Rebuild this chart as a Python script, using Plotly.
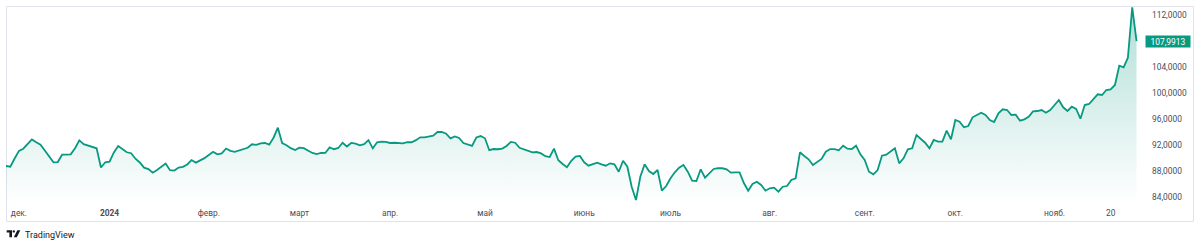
import pandas as pd
import plotly.graph_objects as go

# ---- data (USD/RUB daily closes) ----
start_date = "2023-11-28"
end_date = "2024-11-28"

rates = [
    88.77, 88.66, 89.92, 91.09, 91.43, 92.17, 92.86, 92.42, 92.05, 91.14,
    90.20, 89.34, 89.38, 90.51, 90.52, 90.57, 91.51, 92.72, 92.14, 91.94,
    91.71, 91.49, 88.54, 89.34, 89.43, 90.85, 91.85, 91.31, 90.88, 90.74,
    89.89, 89.31, 88.51, 88.29, 87.74, 88.14, 88.63, 89.15, 88.12, 88.06,
    88.52, 88.65, 89.00, 89.68, 89.29, 89.58, 89.98, 90.46, 90.94, 90.57,
    90.72, 91.46, 91.11, 90.95, 91.17, 91.40, 91.57, 92.11, 92.02, 92.25,
    92.31, 92.06, 93.12, 94.66, 92.29, 91.97, 91.51, 91.23, 91.60, 91.51,
    91.08, 90.78, 90.60, 90.77, 90.78, 91.63, 91.35, 91.54, 92.34, 91.77,
    92.31, 92.22, 91.95, 92.14, 92.74, 91.49, 92.42, 92.51, 92.48, 92.31,
    92.35, 92.25, 92.26, 92.45, 92.42, 92.75, 93.18, 93.18, 93.26, 93.43,
    94.00, 94.03, 93.75, 93.03, 93.32, 93.08, 92.31, 92.14, 91.86, 93.15,
    93.38, 93.03, 91.20, 91.38, 91.35, 91.45, 91.85, 92.48, 92.35, 91.58,
    91.34, 91.18, 90.88, 90.92, 90.71, 90.28, 90.15, 91.45, 89.66, 89.08,
    88.57, 89.58, 90.20, 90.31, 89.34, 88.82, 89.03, 89.28, 89.03, 88.82,
    89.18, 89.03, 87.89, 89.58, 88.66, 85.58, 83.54, 87.12, 89.03, 88.00,
    87.54, 88.15, 84.97, 85.69, 86.88, 87.80, 88.51, 88.92, 87.89, 86.51,
    86.46, 88.26, 86.97, 87.65, 88.31, 88.42, 88.42, 88.26, 87.74, 87.80,
    87.80, 86.15, 84.97, 86.00, 86.35, 85.85, 84.97, 85.34, 85.43, 84.82,
    85.58, 85.69, 86.62, 86.88, 90.88, 90.31, 89.80, 88.92, 89.43, 89.85,
    90.97, 91.38, 91.38, 91.18, 91.89, 91.43, 91.38, 91.89, 90.57, 89.69,
    87.89, 87.49, 88.15, 90.35, 90.51, 91.03, 91.49, 89.18, 89.95, 91.34,
    91.49, 93.54, 92.88, 92.35, 91.49, 92.77, 92.51, 92.51, 94.20, 92.88,
    95.85, 95.58, 94.72, 94.92, 96.26, 96.62, 96.97, 96.62, 95.85, 95.54,
    96.88, 97.49, 97.38, 96.62, 96.66, 95.74, 95.95, 96.35, 97.18, 97.23,
    97.38, 96.97, 97.38, 98.15, 98.92, 97.80, 97.23, 97.89, 97.54, 96.05,
    98.15, 98.31, 99.03, 99.80, 99.69, 100.46, 100.57, 101.23, 104.20, 103.95,
    105.43, 113.18, 107.9913,
]

tick_dates = ["2023-12-01", "2024-01-01", "2024-02-01", "2024-03-01", "2024-04-01",
              "2024-05-01", "2024-06-01", "2024-07-01", "2024-08-01", "2024-09-01",
              "2024-10-01", "2024-11-01", "2024-11-20"]
tick_labels = ["дек.", "<b>2024</b>", "февр.", "март", "апр.", "май", "июнь",
               "июль", "авг.", "сент.", "окт.", "нояб.", "20"]
price_ticks = [84, 88, 92, 96, 100, 104, 112]
last_price = rates[-1]

# ---- build ----
dates = pd.bdate_range(start_date, end_date)
bars = list(range(len(dates)))
tick_vals = [int(dates.searchsorted(pd.Timestamp(d))) for d in tick_dates]

W, H = 1200, 246
ML, MR, MT, MB = 6, 57, 6, 42
PW, PH = W - ML - MR, H - MT - MB


def px(x):
    return (x - ML) / PW


def py(y):
    return (H - MB - y) / PH


GREEN = "#089981"
TEXT = "#4a4e59"
FONT = "Roboto"

fig = go.Figure()
fig.add_trace(go.Scatter(
    x=bars, y=rates, mode="lines",
    line=dict(color=GREEN, width=1.8),
    fill="tozeroy",
    fillgradient=dict(type="vertical", start=82.9, stop=113.4,
                      colorscale=[[0, "rgba(8,153,129,0)"], [1, "rgba(8,153,129,0.32)"]]),
    customdata=[d.strftime("%d.%m.%Y") for d in dates],
    hovertemplate="%{customdata}: %{y:.4f}<extra></extra>",
    showlegend=False,
))

shapes = [
    dict(type="rect", xref="paper", yref="paper",
         x0=px(6.5), x1=px(1193.5), y0=py(221.5), y1=py(6.5),
         line=dict(color="#e0e3eb", width=1), fillcolor="rgba(0,0,0,0)", layer="below"),
    # TradingView logo (T, dot, slanted V)
    dict(type="path", xref="paper", yref="paper",
         path=f"M {px(6.7)} {py(230.2)} L {px(12)} {py(230.2)} L {px(12)} {py(237.3)} "
              f"L {px(9.4)} {py(237.3)} L {px(9.4)} {py(232.6)} L {px(6.7)} {py(232.6)} Z",
         fillcolor="#131722", line=dict(width=0)),
    dict(type="circle", xref="paper", yref="paper",
         x0=px(12.6), x1=px(15.0), y0=py(232.6), y1=py(230.2),
         fillcolor="#131722", line=dict(width=0)),
    dict(type="path", xref="paper", yref="paper",
         path=f"M {px(17.3)} {py(230.2)} L {px(20.3)} {py(230.2)} L {px(16.8)} {py(237.3)} "
              f"L {px(13.8)} {py(237.3)} Z",
         fillcolor="#131722", line=dict(width=0)),
]

annotations = [
    dict(xref="paper", yref="y", x=px(1145), y=last_price, xanchor="left", yanchor="middle",
         text=f"{last_price:.4f}".replace(".", ","), showarrow=False,
         bgcolor=GREEN, font=dict(color="white", size=8.4, family=FONT),
         width=44, height=11, borderpad=0, align="center"),
    dict(xref="paper", yref="paper", x=px(22.5), y=py(235), xanchor="left", yanchor="middle",
         text="TradingView", showarrow=False,
         font=dict(color="#131722", size=9, family=FONT)),
]

fig.update_layout(
    width=W, height=H,
    margin=dict(l=ML, r=MR, t=MT, b=MB, pad=0),
    paper_bgcolor="white", plot_bgcolor="white",
    separators=", ",
    font=dict(family=FONT, size=8.4, color=TEXT),
    shapes=shapes, annotations=annotations,
    xaxis=dict(range=[0, PW / 4.315], tickmode="array", tickvals=tick_vals,
               ticktext=tick_labels, showgrid=False, zeroline=False, showline=False,
               ticks="", ticklabelstandoff=3, fixedrange=True),
    yaxis=dict(side="right", range=[112 - (H - MB - 15) / 6.5, 112 + 9 / 6.5],
               tickmode="array", tickvals=price_ticks, tickformat=".4f",
               showgrid=False, zeroline=False, showline=False, ticks="",
               ticklabelstandoff=8, fixedrange=True),
)

fig.write_html("out.html")
